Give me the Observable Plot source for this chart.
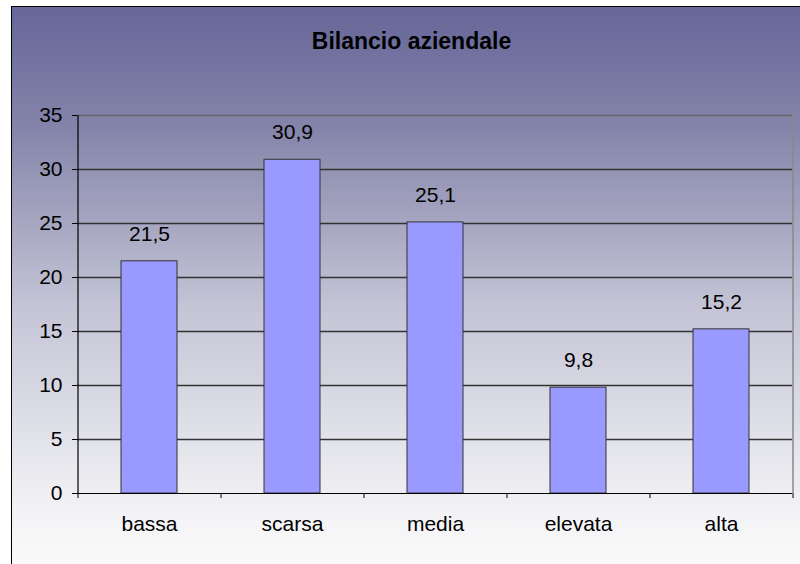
<!DOCTYPE html>
<html><head><meta charset="utf-8">
<script src="https://cdn.jsdelivr.net/npm/d3@7"></script>
<script src="https://cdn.jsdelivr.net/npm/@observablehq/plot@0.6"></script>
<style>
html,body{margin:0;padding:0;background:#fff;width:800px;height:564px;overflow:hidden;}
#box{position:absolute;left:11px;top:6px;width:820px;height:600px;border-left:1.5px solid #000;border-top:1.5px solid #000;
background:linear-gradient(to bottom,#666699 0%,#8484aa 20%,#c4c4d6 50%,#f4f4f6 85%,#ffffff 100%);}
#title{position:absolute;left:0;width:823px;top:28px;text-align:center;font:bold 23px "Liberation Sans",Arial,sans-serif;color:#000;}
#chart{position:absolute;left:0;top:0;}
</style></head>
<body>
<div id="box"></div>
<div id="title">Bilancio aziendale</div>
<div id="chart"></div>
<script>
const categories = ["bassa", "scarsa", "media", "elevata", "alta"];
const values = [21.5, 30.9, 25.1, 9.8, 15.2];
const yTicks = [0, 5, 10, 15, 20, 25, 30, 35];

const data = categories.map((c, i) => ({cat: c, value: values[i]}));
const W = 800, mL = 77, mR = 8;
const step = (W - mL - mR) / categories.length;
const fmt = v => d3.format(".1f")(v).replace(".", ",");

const chart = Plot.plot({
  width: W, height: 564,
  marginLeft: mL, marginRight: mR, marginTop: 115, marginBottom: 71,
  style: {background: "transparent", fontFamily: "'Liberation Sans', Arial, sans-serif", fontSize: "21px", color: "#000", overflow: "visible"},
  x: {domain: categories, paddingInner: 0.61, paddingOuter: 0.305, axis: null},
  y: {domain: [0, 35], axis: null},
  marks: [
    Plot.ruleX([categories[categories.length - 1]], {dx: step / 2, stroke: "#888", strokeWidth: 1.5}),
    Plot.ruleY(yTicks.filter(t => t > 0 && t < 35), {stroke: "#333", strokeWidth: 1.4}),
    Plot.ruleY([35], {stroke: "#666", strokeWidth: 1.6}),
    Plot.barY(data, {x: "cat", y: "value", fill: "#9999ff", stroke: "#333", strokeWidth: 1}),
    Plot.ruleY([0], {stroke: "#000", strokeWidth: 1.2}),
    Plot.ruleX([categories[0]], {dx: -step / 2, stroke: "#000", strokeWidth: 1.2}),
    Plot.axisY({ticks: yTicks, tickSize: 5, tickPadding: 10, fontSize: 21, stroke: "#000", label: null}),
    Plot.ruleX(categories, {dx: -step / 2, y1: 0, y2: 0, insetBottom: -5, stroke: "#000"}),
    Plot.ruleX([categories[categories.length - 1]], {dx: step / 2, y1: 0, y2: 0, insetBottom: -5, stroke: "#000"}),
    Plot.axisX({tickSize: 0, tickPadding: 23, fontSize: 21, label: null}),
    Plot.text(data, {x: "cat", y: "value", text: d => fmt(d.value), dy: -27.5, fontSize: 21, fill: "#000"})
  ]
});
document.getElementById("chart").appendChild(chart);
</script>
</body></html>
